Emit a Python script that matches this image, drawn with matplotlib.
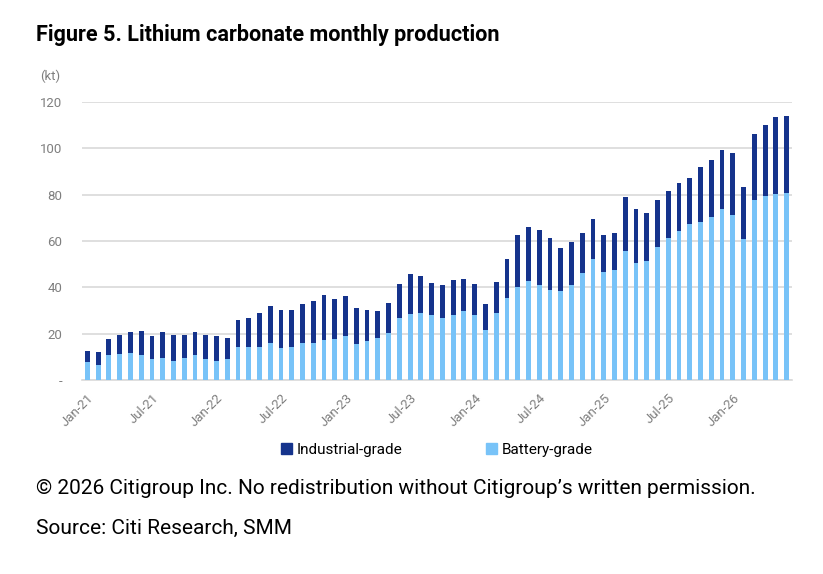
import matplotlib
matplotlib.use("Agg")
import matplotlib.pyplot as plt
import numpy as np
from matplotlib.patches import Patch

# Monthly production, Jan-21 .. Jun-26 (kt)
months = ["Jan-21", "Feb-21", "Mar-21", "Apr-21", "May-21", "Jun-21",
          "Jul-21", "Aug-21", "Sep-21", "Oct-21", "Nov-21", "Dec-21",
          "Jan-22", "Feb-22", "Mar-22", "Apr-22", "May-22", "Jun-22",
          "Jul-22", "Aug-22", "Sep-22", "Oct-22", "Nov-22", "Dec-22",
          "Jan-23", "Feb-23", "Mar-23", "Apr-23", "May-23", "Jun-23",
          "Jul-23", "Aug-23", "Sep-23", "Oct-23", "Nov-23", "Dec-23",
          "Jan-24", "Feb-24", "Mar-24", "Apr-24", "May-24", "Jun-24",
          "Jul-24", "Aug-24", "Sep-24", "Oct-24", "Nov-24", "Dec-24",
          "Jan-25", "Feb-25", "Mar-25", "Apr-25", "May-25", "Jun-25",
          "Jul-25", "Aug-25", "Sep-25", "Oct-25", "Nov-25", "Dec-25",
          "Jan-26", "Feb-26", "Mar-26", "Apr-26", "May-26", "Jun-26"]

total = [12.5, 11.9, 17.7, 19.6, 20.7, 21.3, 18.8, 20.7, 19.6, 19.6, 20.7, 19.6,
         18.8, 18.3, 26.0, 26.6, 28.9, 31.9, 30.1, 30.1, 32.7, 34.2, 36.7, 34.8,
         36.1, 31.0, 30.3, 29.7, 33.3, 41.4, 45.6, 45.0, 42.0, 40.9, 43.3, 43.8,
         41.3, 32.6, 42.4, 52.4, 62.6, 66.1, 64.9, 61.3, 57.1, 59.6, 63.6, 69.7,
         62.5, 63.6, 79.0, 73.9, 72.0, 77.9, 81.5, 84.9, 87.2, 92.1, 95.0, 99.1,
         98.0, 83.2, 106.3, 109.9, 113.5, 114.1]

battery = [7.6, 6.5, 10.6, 11.2, 11.8, 10.6, 8.9, 9.4, 8.2, 9.4, 10.6, 8.9,
           8.2, 8.9, 14.1, 14.1, 14.1, 16.0, 13.7, 14.1, 16.0, 16.0, 17.1, 17.7,
           19.0, 15.7, 16.9, 18.0, 20.3, 26.9, 28.6, 29.1, 28.0, 26.9, 28.0, 29.6,
           27.9, 21.4, 29.0, 35.4, 40.1, 42.6, 40.9, 39.0, 38.4, 40.9, 46.0, 52.4,
           46.6, 47.3, 55.5, 50.3, 51.3, 57.2, 61.5, 64.2, 67.2, 68.4, 70.3, 73.9,
           71.4, 60.8, 77.9, 79.6, 80.3, 80.7]

industrial = [t - b for t, b in zip(total, battery)]

y_ticks = [0, 20, 40, 60, 80, 100, 120]
y_tick_labels = ["-", "20", "40", "60", "80", "100", "120"]

DARK = "#15338c"
LIGHT = "#78c3f8"
GREY = "#7f7f7f"
FONT = ["Roboto", "DejaVu Sans"]

plt.rcParams["font.family"] = FONT

W, H = 823, 574
fig = plt.figure(figsize=(W / 100, H / 100), dpi=100)
ax = fig.add_axes([82 / W, (H - 380) / H, (792 - 82) / W, (380 - 102) / H])

x = np.arange(len(months))
ax.bar(x, battery, width=0.45, color=LIGHT, edgecolor="none", zorder=3)
ax.bar(x, industrial, width=0.45, bottom=battery, color=DARK, edgecolor="none", zorder=3)

ax.set_xlim(-0.5, len(months) - 0.5)
ax.set_ylim(0, 120)
ax.set_yticks(y_ticks)
ax.set_yticklabels(y_tick_labels, color=GREY, fontsize=9.5)
ax.yaxis.grid(True, color="#d9d9d9", linewidth=1.2, zorder=0)
ax.tick_params(axis="y", length=0, pad=14)

ax.set_xticks(x[::6])
ax.set_xticklabels(months[::6], rotation=45, ha="right", rotation_mode="anchor",
                   color=GREY, fontsize=9.5)
ax.tick_params(axis="x", length=0, pad=8)

for s in ["top", "right", "left"]:
    ax.spines[s].set_visible(False)
ax.spines["bottom"].set_color("#d9d9d9")
ax.spines["bottom"].set_linewidth(1.2)

handles = [Patch(color=DARK, label="Industrial-grade"),
           Patch(color=LIGHT, label="Battery-grade")]
fig.legend(handles=handles, loc="center", bbox_to_anchor=(437 / W, 1 - 450 / H),
           ncol=2, frameon=False, handlelength=0.7, handleheight=0.7,
           handletextpad=0.3, columnspacing=5.5, prop={"size": 11})

fig.text(36 / W, 1 - 35 / H, "Figure 5. Lithium carbonate monthly production",
         fontsize=15.6, fontweight="bold", va="center", ha="left", color="black")
fig.text(40 / W, 1 - 76 / H, "(kt)", fontsize=9.5, color=GREY, va="center", ha="left")
fig.text(36 / W, 1 - 488 / H,
         "\u00a9 2026 Citigroup Inc. No redistribution without Citigroup\u2019s written permission.",
         fontsize=15, va="center", ha="left", color="black")
fig.text(36 / W, 1 - 528 / H, "Source: Citi Research, SMM",
         fontsize=15, va="center", ha="left", color="black")

fig.savefig("out.png", dpi=100, facecolor="white")
